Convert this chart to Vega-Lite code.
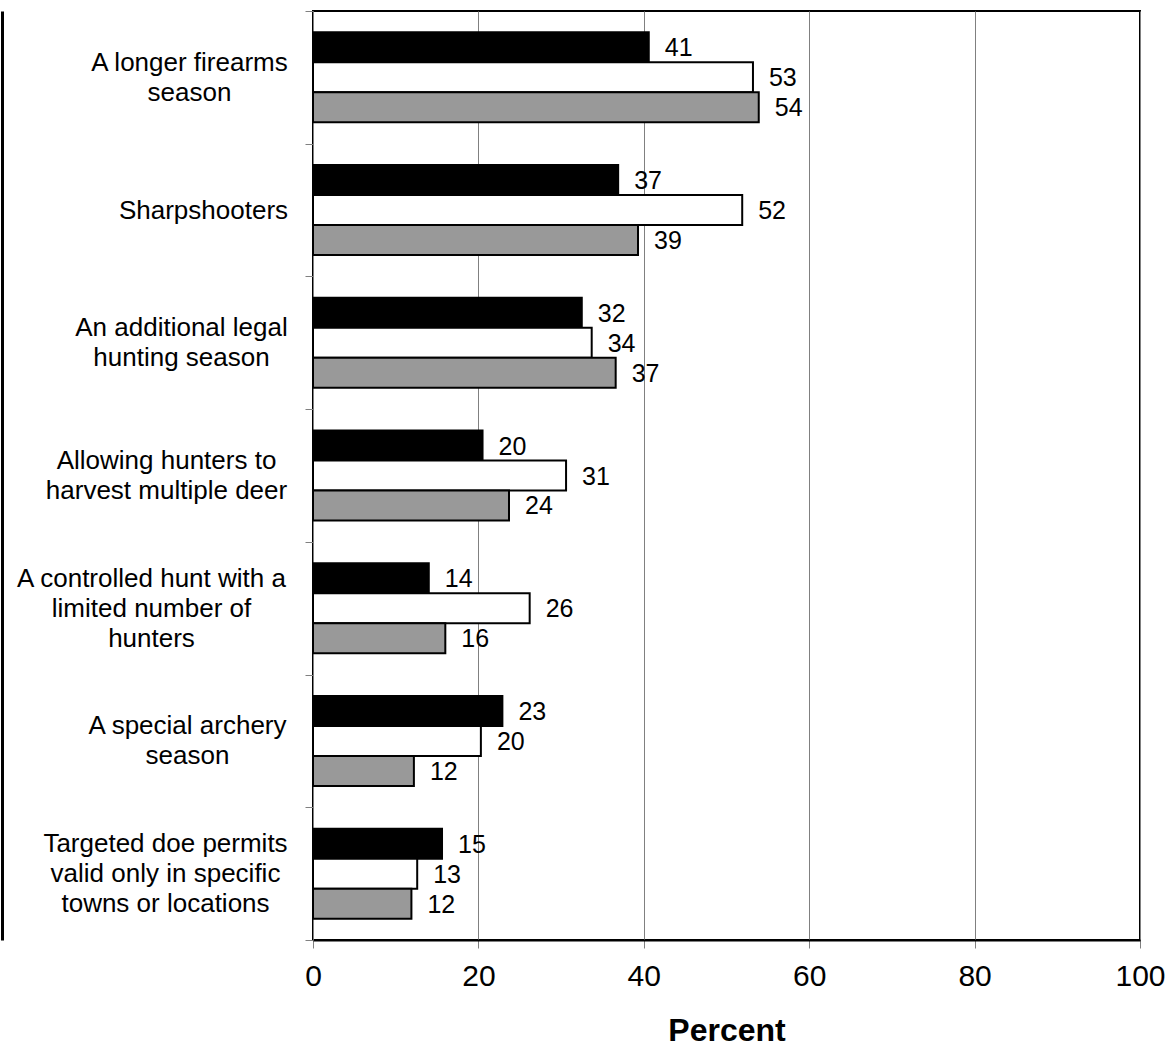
{
  "$schema": "https://vega.github.io/schema/vega-lite/v6.json",
  "width": 827,
  "height": 929,
  "autosize": {"type": "none"},
  "padding": {"left": 313, "top": 11, "right": 32, "bottom": 106},
  "background": "white",
  "config": {
    "view": {"stroke": "black", "strokeWidth": 2},
    "font": "Liberation Sans"
  },
  "data": {
    "values": [
      {"category": "A longer firearms|season", "series": "Series 1", "value": 40.6, "label": "41"},
      {"category": "A longer firearms|season", "series": "Series 2", "value": 53.2, "label": "53"},
      {"category": "A longer firearms|season", "series": "Series 3", "value": 53.9, "label": "54"},
      {"category": "Sharpshooters", "series": "Series 1", "value": 36.9, "label": "37"},
      {"category": "Sharpshooters", "series": "Series 2", "value": 51.9, "label": "52"},
      {"category": "Sharpshooters", "series": "Series 3", "value": 39.3, "label": "39"},
      {"category": "An additional legal|hunting season", "series": "Series 1", "value": 32.5, "label": "32"},
      {"category": "An additional legal|hunting season", "series": "Series 2", "value": 33.7, "label": "34"},
      {"category": "An additional legal|hunting season", "series": "Series 3", "value": 36.6, "label": "37"},
      {"category": "Allowing hunters to|harvest multiple deer", "series": "Series 1", "value": 20.5, "label": "20"},
      {"category": "Allowing hunters to|harvest multiple deer", "series": "Series 2", "value": 30.6, "label": "31"},
      {"category": "Allowing hunters to|harvest multiple deer", "series": "Series 3", "value": 23.7, "label": "24"},
      {"category": "A controlled hunt with a|limited number of|hunters", "series": "Series 1", "value": 14.0, "label": "14"},
      {"category": "A controlled hunt with a|limited number of|hunters", "series": "Series 2", "value": 26.2, "label": "26"},
      {"category": "A controlled hunt with a|limited number of|hunters", "series": "Series 3", "value": 16.0, "label": "16"},
      {"category": "A special archery|season", "series": "Series 1", "value": 22.9, "label": "23"},
      {"category": "A special archery|season", "series": "Series 2", "value": 20.3, "label": "20"},
      {"category": "A special archery|season", "series": "Series 3", "value": 12.2, "label": "12"},
      {"category": "Targeted doe permits|valid only in specific|towns or locations", "series": "Series 1", "value": 15.6, "label": "15"},
      {"category": "Targeted doe permits|valid only in specific|towns or locations", "series": "Series 2", "value": 12.6, "label": "13"},
      {"category": "Targeted doe permits|valid only in specific|towns or locations", "series": "Series 3", "value": 11.9, "label": "12"}
    ]
  },
  "resolve": {"axis": {"y": "independent"}},
  "layer": [
    {
      "mark": {"type": "bar", "stroke": "black", "strokeWidth": 2},
      "encoding": {
        "y": {
          "field": "category", "type": "nominal", "sort": null,
          "scale": {"paddingInner": 0, "paddingOuter": 0},
          "axis": {
            "title": null, "domain": false, "tickBand": "extent",
            "tickColor": "#808080", "tickSize": 8,
            "labelFontSize": 26, "labelLineHeight": 30, "labelColor": "black",
            "labelAlign": "center", "labelBaseline": "middle", "labelLimit": 600,
            "labelExpr": "split(datum.label, '|')",
            "labelOffset": {"expr": "-15 * (length(split(datum.value, '|')) - 1)"},
            "labelPadding": {"expr": "[116,102,124,139,154,118,140][indexof(['A longer firearms|season','Sharpshooters','An additional legal|hunting season','Allowing hunters to|harvest multiple deer','A controlled hunt with a|limited number of|hunters','A special archery|season','Targeted doe permits|valid only in specific|towns or locations'], datum.value)]"}
          }
        },
        "yOffset": {
          "field": "series", "type": "nominal",
          "sort": ["Series 1", "Series 2", "Series 3"],
          "scale": {"paddingInner": 0, "paddingOuter": 0.712}
        },
        "x": {
          "field": "value", "type": "quantitative",
          "scale": {"domain": [0, 100], "nice": false},
          "axis": {
            "values": [0, 20, 40, 60, 80, 100],
            "grid": true, "gridColor": "#808080", "gridWidth": 1,
            "tickColor": "#808080", "tickSize": 8,
            "domainColor": "black", "domainWidth": 2,
            "labelFlush": false,
            "labelFontSize": 30, "labelPadding": 13, "labelColor": "black",
            "title": "Percent", "titleFontSize": 32, "titleFontWeight": "bold",
            "titleColor": "black", "titlePadding": 24
          }
        },
        "fill": {
          "field": "series", "type": "nominal",
          "scale": {"domain": ["Series 1", "Series 2", "Series 3"], "range": ["#000000", "#ffffff", "#999999"]},
          "legend": null
        }
      }
    },
    {
      "mark": {"type": "text", "align": "left", "baseline": "middle", "dx": 16, "dy": 1, "fontSize": 25, "color": "black"},
      "encoding": {
        "y": {
          "field": "category", "type": "nominal", "sort": null,
          "axis": {"orient": "right", "offset": -1138, "labels": false, "ticks": false, "grid": false, "domain": true, "domainColor": "black", "domainWidth": 3, "title": null}
        },
        "yOffset": {"field": "series", "type": "nominal", "sort": ["Series 1", "Series 2", "Series 3"]},
        "x": {"field": "value", "type": "quantitative"},
        "text": {"field": "label"}
      }
    }
  ]
}
